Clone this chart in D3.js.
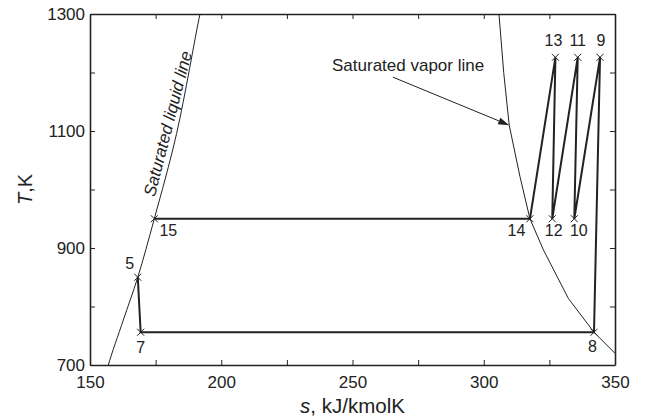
<!DOCTYPE html>
<html><head><meta charset="utf-8">
<script src="https://cdn.jsdelivr.net/npm/d3@7"></script>
<style>body{margin:0;background:#fff}svg{display:block}text{font-family:"Liberation Sans",Arial,Helvetica,sans-serif;fill:#222}</style>
</head><body>
<script>
// Cycle state points (s in kJ/kmolK, T in K)
const cycleLabels = ["5","7","8","9","10","11","12","13","14","15"];
const cycleS = [168.2, 169.3, 342.0, 344.3, 334.5, 335.8, 326.1, 327.3, 317.6, 174.5];
const cycleT = [850, 756, 756, 1226, 950, 1226, 950, 1226, 950, 950];
// Saturated liquid line
const liqS = [155.5, 157.0, 162.7, 168.2, 174.5, 183.0, 191.9, 193.5];
const liqT = [670, 700, 777, 850, 950, 1096, 1300, 1330];
// Saturated vapor line
const vapS = [305.6, 305.8, 307.6, 309.7, 313.8, 317.6, 322.7, 332.2, 342.0, 350.0, 355];
const vapT = [1320, 1300, 1200, 1110, 1022, 950, 897, 814, 756, 720, 700];
const xTicks = [150, 175, 200, 225, 250, 275, 300, 325, 350];
const xTickLabels = ["150", "", "200", "", "250", "", "300", "", "350"];
const yTicks = [700, 800, 900, 1000, 1100, 1200, 1300];
const yTickLabels = ["700", "", "900", "", "1100", "", "1300"];

const W = 646, H = 418;
const m = {l: 90, r: 31, t: 14, b: 53};
const svg = d3.select("body").append("svg").attr("width", W).attr("height", H);
const x = d3.scaleLinear().domain([150, 350]).range([m.l, W - m.r]);
const y = d3.scaleLinear().domain([700, 1300]).range([H - m.b, m.t]);

svg.append("defs").append("clipPath").attr("id", "clip")
  .append("rect").attr("x", x(150)).attr("y", y(1300)).attr("width", x(350) - x(150)).attr("height", y(700) - y(1300));

const tickFmtX = (d, i) => xTickLabels[i];
const tickFmtY = (d, i) => yTickLabels[i];
const ax = [
  {a: d3.axisBottom(x).tickValues(xTicks).tickFormat(tickFmtX), tr: `translate(0,${y(700)})`},
  {a: d3.axisTop(x).tickValues(xTicks).tickFormat(""), tr: `translate(0,${y(1300)})`},
  {a: d3.axisLeft(y).tickValues(yTicks).tickFormat(tickFmtY), tr: `translate(${x(150)},0)`},
  {a: d3.axisRight(y).tickValues(yTicks).tickFormat(""), tr: `translate(${x(350)},0)`}
];
ax.forEach((o, k) => {
  const g = svg.append("g").attr("transform", o.tr).call(o.a.tickSizeInner(-5).tickSizeOuter(0).tickPadding(k === 0 ? 11 : 5));
  g.select(".domain").attr("stroke", "#222").attr("stroke-width", 1.6);
  g.selectAll(".tick line").attr("stroke", "#222").attr("stroke-width", 1);
  g.selectAll(".tick text").attr("font-size", 17).attr("fill", "#222").attr("font-family", '"Liberation Sans",Arial,sans-serif');
});

// Saturation curves
const line = d3.line().x(d => x(d[0])).y(d => y(d[1]));
svg.append("path").datum(liqS.map((s, i) => [s, liqT[i]])).attr("d", line.curve(d3.curveCatmullRom))
  .attr("fill", "none").attr("stroke", "#222").attr("stroke-width", 1).attr("clip-path", "url(#clip)");
svg.append("path").datum(vapS.map((s, i) => [s, vapT[i]])).attr("d", line.curve(d3.curveLinear))
  .attr("fill", "none").attr("stroke", "#222").attr("stroke-width", 1).attr("clip-path", "url(#clip)");

// Cycle path
const pts = cycleS.map((s, i) => [s, cycleT[i]]);
svg.append("path").datum(pts).attr("d", d3.line().x(d => x(d[0])).y(d => y(d[1])))
  .attr("fill", "none").attr("stroke", "#222").attr("stroke-width", 2).attr("stroke-linejoin", "miter");

// markers
const ms = 3.5;
svg.append("g").selectAll("path").data(pts).join("path")
  .attr("d", d => { const px = x(d[0]), py = y(d[1]); return `M${px-ms},${py-ms}L${px+ms},${py+ms}M${px-ms},${py+ms}L${px+ms},${py-ms}`; })
  .attr("stroke", "#222").attr("stroke-width", 1);

// point labels: offsets in px
const lblOff = {"5": [-8, -12], "7": [0, 17], "8": [-1.5, 15.5], "9": [1, -16], "10": [4.5, 13.5], "11": [0, -16], "12": [1.5, 13.5], "13": [-2, -16], "14": [-13.5, 13.5], "15": [14, 13]};
svg.append("g").selectAll("text").data(pts).join("text")
  .attr("x", (d, i) => x(d[0]) + lblOff[cycleLabels[i]][0])
  .attr("y", (d, i) => y(d[1]) + lblOff[cycleLabels[i]][1])
  .attr("text-anchor", "middle").attr("dominant-baseline", "middle")
  .attr("font-size", 16).text((d, i) => cycleLabels[i]);

// Annotation: saturated vapor line with arrow
const arrowFrom = [265.4, 1192], arrowTo = [309.7, 1110];
const x0 = x(arrowFrom[0]), y0 = y(arrowFrom[1]), x1 = x(arrowTo[0]), y1 = y(arrowTo[1]);
const ang = Math.atan2(y1 - y0, x1 - x0), L = 11, Wd = 3.5;
const bx = x1 - L * Math.cos(ang), by = y1 - L * Math.sin(ang);
svg.append("line").attr("x1", x0).attr("y1", y0).attr("x2", bx).attr("y2", by)
  .attr("stroke", "#222").attr("stroke-width", 1);
svg.append("path").attr("d", `M${x1},${y1}L${bx + Wd * Math.sin(ang)},${by - Wd * Math.cos(ang)}L${bx - Wd * Math.sin(ang)},${by + Wd * Math.cos(ang)}Z`)
  .attr("fill", "#222");
svg.append("text").attr("x", x(242.2)).attr("y", y(1202.6)).attr("font-size", 17).text("Saturated vapor line");

// Annotation: saturated liquid line (rotated italic)
svg.append("text").attr("transform", `translate(${x(182.7) - 2.5},${y(1110)}) rotate(-75.5)`)
  .attr("text-anchor", "middle").attr("font-size", 17).attr("font-style", "italic").text("Saturated liquid line");

// Axis titles
const xt = svg.append("text").attr("x", (x(150) + x(350)) / 2).attr("y", 413).attr("text-anchor", "middle").attr("font-size", 20.5);
xt.append("tspan").attr("font-style", "italic").text("s");
xt.append("tspan").text(", kJ/kmolK");
const yt = svg.append("text").attr("transform", `translate(32,${(y(700) + y(1300)) / 2}) rotate(-90)`).attr("text-anchor", "middle").attr("font-size", 20);
yt.append("tspan").attr("font-style", "italic").text("T");
yt.append("tspan").text(",K");
</script>
</body></html>
